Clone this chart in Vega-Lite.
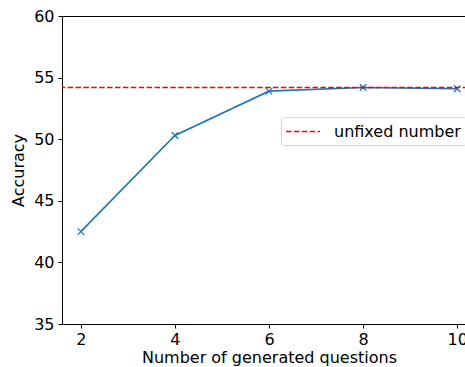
{
  "$schema": "https://vega.github.io/schema/vega-lite/v6.json",
  "width": 414,
  "height": 308,
  "autosize": "none",
  "padding": {"left": 62, "top": 16, "right": 0, "bottom": 43},
  "background": "white",
  "config": {
    "font": "DejaVu Sans",
    "view": {"stroke": "black", "strokeWidth": 1},
    "axis": {
      "grid": false,
      "domainColor": "black",
      "tickColor": "black",
      "tickSize": 4,
      "labelColor": "black",
      "titleColor": "black",
      "labelFont": "DejaVu Sans",
      "titleFont": "DejaVu Sans",
      "labelFontSize": 16,
      "titleFontSize": 16,
      "titleFontWeight": "normal"
    },
    "legend": {
      "orient": "none",
      "legendX": 219,
      "legendY": 101,
      "fillColor": "white",
      "strokeColor": "#d5d5d5",
      "cornerRadius": 3,
      "padding": 5,
      "labelFont": "DejaVu Sans",
      "labelFontSize": 16,
      "labelColor": "black",
      "symbolType": "M-2,0L2,0",
      "symbolSize": 289,
      "symbolStrokeWidth": 1.5,
      "symbolOffset": 7.5,
      "labelOffset": 21.5
    }
  },
  "layer": [
    {
      "data": {"values": [
        {"n": 2, "acc": 42.5},
        {"n": 4, "acc": 50.3},
        {"n": 6, "acc": 53.9},
        {"n": 8, "acc": 54.2},
        {"n": 10, "acc": 54.1}
      ]},
      "layer": [
        {
          "mark": {"type": "line", "color": "#1f77b4", "strokeWidth": 1.6},
          "encoding": {
            "x": {"field": "n", "type": "quantitative", "scale": {"domain": [1.6, 10.4], "nice": false, "zero": false},
              "axis": {"values": [2, 4, 6, 8, 10], "title": "Number of generated questions", "labelPadding": 3, "titlePadding": 2}},
            "y": {"field": "acc", "type": "quantitative", "scale": {"domain": [35, 60], "nice": false, "zero": false},
              "axis": {"values": [35, 40, 45, 50, 55, 60], "title": "Accuracy", "labelPadding": 4, "titlePadding": 7}}
          }
        },
        {
          "mark": {"type": "point", "shape": "M-1,-1L1,1M-1,1L1,-1", "filled": false, "color": "#1f77b4", "strokeWidth": 1.3, "size": 42, "opacity": 1},
          "encoding": {
            "x": {"field": "n", "type": "quantitative"},
            "y": {"field": "acc", "type": "quantitative"}
          }
        }
      ]
    },
    {
      "data": {"values": [{"label": "unfixed number", "y": 54.2}]},
      "mark": {"type": "rule", "strokeWidth": 1.5},
      "encoding": {
        "y": {"field": "y", "type": "quantitative"},
        "color": {"field": "label", "type": "nominal", "scale": {"range": ["red"]}, "legend": {"title": null}},
        "strokeDash": {"field": "label", "type": "nominal", "scale": {"range": [[5.5, 2.4]]}, "legend": {"title": null}}
      }
    }
  ]
}
